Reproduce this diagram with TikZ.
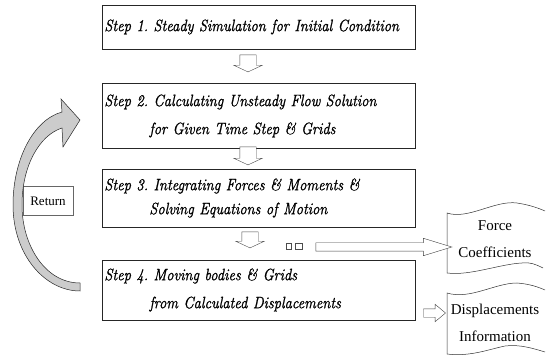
\documentclass[tikz,border=0pt]{standalone}
\usepackage{fontspec}
\setmainfont{Liberation Serif}
\newfontfamily\stepfont{Latin Modern Roman}[ItalicFeatures={FakeBold=1.2, FakeStretch=0.88}, WordSpace=0.75]
\usepackage{tikz}
\usepackage{xcolor}
\usetikzlibrary{shapes.arrows}
\frenchspacing

\begin{document}
\begin{tikzpicture}[x=1pt, y=-1pt,
    stepbox/.style={draw=black!85, line width=0.5pt, minimum width=313pt, text width=309pt,
        align=left, inner xsep=2pt, font=\stepfont\itshape\fontsize{16.5}{28}\selectfont},
    downarrow/.style={single arrow, draw=black!70, fill=white, line width=0.4pt, rotate=-90,
        inner xsep=0pt, inner ysep=8pt, single arrow head extend=6pt, single arrow tip angle=130},
    outarrow/.style={single arrow, draw=black!75, fill=white, line width=0.4pt, inner xsep=0pt, inner ysep=4pt},
    doctext/.style={align=center, font=\fontsize{15}{27}\selectfont},
    docline/.style={draw=black!80, line width=0.5pt}
]
    \useasboundingbox (0,0) rectangle (554,355);

    % Step boxes
    \node[stepbox, minimum height=44pt] (s1) at (259,27) {Step 1. Steady Simulation for Initial Condition};
    \node[stepbox, minimum height=65pt] (s2) at (259,116) {Step 2. Calculating Unsteady Flow Solution\\\hspace*{45pt}for Given Time Step \& Grids};
    \node[stepbox, minimum height=58pt, font=\stepfont\itshape\fontsize{16.5}{24}\selectfont] (s3) at (259,198) {Step 3. Integrating Forces \& Moments \&\\\hspace*{45pt}Solving Equations of Motion};
    \node[stepbox, minimum height=60pt] (s4) at (259,290) {Step 4. Moving bodies \& Grids\\\hspace*{45pt}from Calculated Displacements};

    % Hollow arrows between the steps
    \node[downarrow, minimum height=17pt] (a1) at (248,61.5) {};
    \node[downarrow, minimum height=18pt] (a2) at (248,154) {};
    \node[downarrow, minimum height=16pt] (a3) at (250,238) {};

    % Return loop
    \node[draw=black!60, line width=0.4pt, minimum width=50pt, minimum height=29pt,
        font=\fontsize{13}{15}\selectfont] (ret) at (48,201) {Return};
    \draw[fill=black!20, draw=black!85, line width=0.5pt]
        (80,283) .. controls (45,283) and (22,245) .. (22,205)
        .. controls (22,165) and (40,135) .. (62,128) -- (63,147) -- (80,120) -- (61,99) -- (62,112)
        .. controls (33,120) and (13,160) .. (13,205)
        .. controls (13,255) and (45,291) .. (80,291) -- cycle;

    % Outputs
    \node[doctext] (force) at (495,239) {Force\\Coefficients};
    \draw[docline] (543,268) .. controls (535,264) and (530,262) .. (522,263)
        .. controls (500,264) and (470,276) .. (447,273) -- (447,213)
        .. controls (468,220) and (495,200) .. (517,203) .. controls (530,205) and (538,208) .. (545,211);
    \node[doctext] (disp) at (495,323) {Displacements\\Information};
    \draw[docline] (545,352) .. controls (535,349) and (520,344) .. (505,346)
        .. controls (490,349) and (470,357) .. (447,354) -- (447,293)
        .. controls (470,300) and (495,283) .. (517,283) .. controls (530,284) and (538,287) .. (545,290);

    \node[draw=black!70, line width=0.4pt, minimum width=5pt, minimum height=6pt, inner sep=0pt] (sq1) at (289,246) {};
    \node[draw=black!70, line width=0.4pt, minimum width=7pt, minimum height=6pt, inner sep=0pt] (sq2) at (299,246) {};
    \node[outarrow, minimum height=136pt, single arrow head extend=4.5pt,
        single arrow tip angle=34] (toforce) at (377,247) {};
    \node[outarrow, minimum height=22pt, single arrow head extend=4.5pt,
        single arrow tip angle=80] (todisp) at (432,313) {};
\end{tikzpicture}
\end{document}
